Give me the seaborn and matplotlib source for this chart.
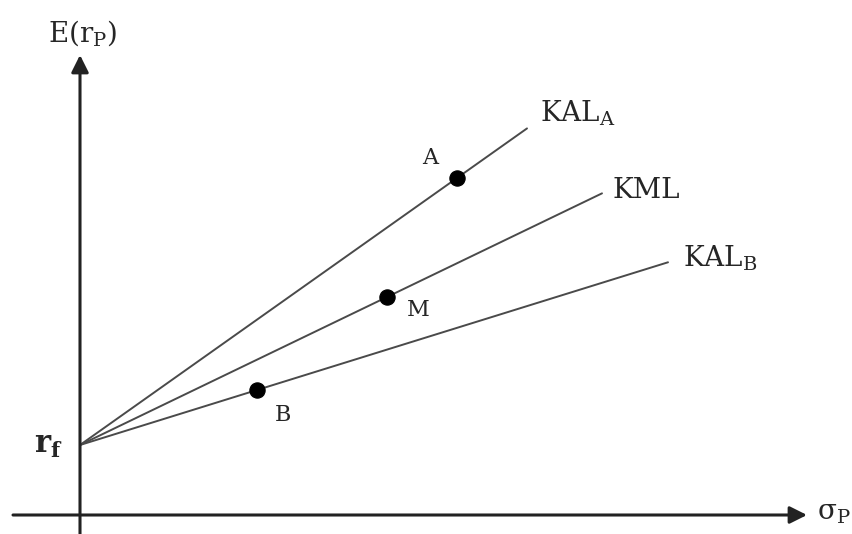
import matplotlib
matplotlib.use("Agg")
import matplotlib.pyplot as plt
import seaborn as sns
import pandas as pd

sns.set_style("white")
plt.rcParams['font.family'] = ['DejaVu Serif']
plt.rcParams['mathtext.fontset'] = 'dejavuserif'

# risk-free rate and portfolios (sigma, expected return)
rf = 0.70
portfolios = ['A', 'M', 'B']
port_sigma = [3.77, 3.07, 1.77]
port_ret = [3.37, 2.18, 1.25]
# where each line stops on the sigma axis
line_names = ['KAL$_\\mathrm{A}$', 'KML', 'KAL$_\\mathrm{B}$']
line_end_sigma = [4.47, 5.22, 5.88]

rows = []
for name, s, r, xe in zip(line_names, port_sigma, port_ret, line_end_sigma):
    slope = (r - rf) / s
    rows.append({'line': name, 'sigma': 0.0, 'ret': rf})
    rows.append({'line': name, 'sigma': xe, 'ret': rf + slope * xe})
lines = pd.DataFrame(rows)
pts = pd.DataFrame({'name': portfolios, 'sigma': port_sigma, 'ret': port_ret})

fig = plt.figure(figsize=(8.53, 5.34), dpi=100)
ax = fig.add_axes([0, 0, 1, 1])
ax.set_xlim(-0.80, 7.73)
ax.set_ylim(-0.19, 5.15)
ax.axis('off')

sns.lineplot(data=lines, x='sigma', y='ret', units='line', estimator=None,
             color='#4a4a4a', linewidth=1.4, ax=ax, legend=False)
sns.scatterplot(data=pts, x='sigma', y='ret', color='black', s=120,
                marker='o', edgecolor='black', ax=ax, zorder=5, legend=False)

# axes with arrows
arrow = dict(arrowstyle='-|>', color='#222222', lw=2.2, mutation_scale=26,
             shrinkA=0, shrinkB=0)
ax.annotate('', xy=(0, 4.60), xytext=(0, -0.19), arrowprops=arrow)
ax.annotate('', xy=(7.27, 0), xytext=(-0.67, 0), arrowprops=arrow)

ax.text(0.03, 4.82, 'E(r$_\\mathrm{P}$)', fontsize=20, ha='center', va='center')
ax.text(-0.17, 0.70, 'r$_\\mathbf{f}$', fontsize=22, fontweight='bold',
        ha='right', va='center')
ax.text(7.37, 0.02, 'σ$_\\mathrm{P}$', fontsize=20, ha='left', va='center')

label_pos = [(4.60, 4.02), (5.33, 3.25), (6.03, 2.57)]
for name, (lx, ly) in zip(line_names, label_pos):
    ax.text(lx, ly, name, fontsize=20, ha='left', va='center')

pt_label_pos = [(3.50, 3.57), (3.38, 2.05), (2.03, 1.00)]
for name, (lx, ly) in zip(portfolios, pt_label_pos):
    ax.text(lx, ly, name, fontsize=16, ha='center', va='center')

fig.savefig('out.png', dpi=100)
